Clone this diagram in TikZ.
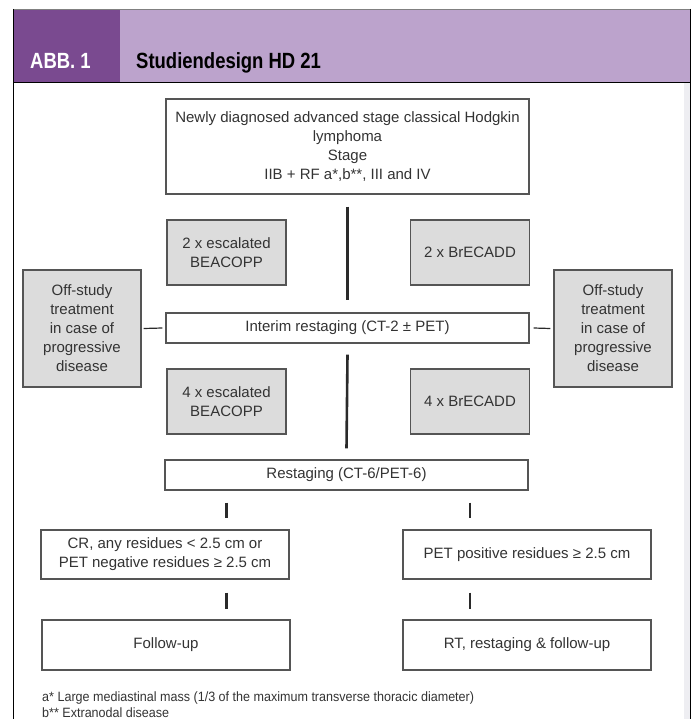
\documentclass[tikz,border=0pt]{standalone}
\usepackage{fontspec}
\setmainfont{Liberation Sans}
\usepackage{graphicx}
\definecolor{hdark}{HTML}{7A4A90}
\definecolor{hlight}{HTML}{BCA3CC}
\definecolor{boxline}{HTML}{555555}
\definecolor{boxfill}{HTML}{DCDCDC}
\definecolor{txt}{HTML}{333333}
\definecolor{linec}{HTML}{2A2A2A}
\definecolor{stripc}{HTML}{EEEEF2}
\begin{document}
\begin{tikzpicture}[x=1pt,y=-1pt,
  box/.style={draw=boxline, line width=1.3pt, fill=white, text=txt, align=center, inner sep=0pt,
    font=\fontsize{15}{19}\selectfont},
  greybox/.style={box, fill=boxfill},
  link/.style={line width=2.6pt, draw=linec},
  sidelink/.style={line width=1.2pt, draw=linec},
  hdr/.style={anchor=base west, inner sep=0pt, font=\fontsize{22}{26}\selectfont\bfseries},
  fnote/.style={anchor=base west, inner sep=0pt, text=txt, font=\fontsize{13.5}{16}\selectfont}
]
\useasboundingbox (0,0) rectangle (692,719);
% header band
\fill[hdark] (13,9) rectangle (120,83);
\fill[hlight] (120,9) rectangle (690,83);
\draw[gray, line width=0.8pt] (13,9) -- (690,9);
\draw[black, line width=1pt] (13,83) -- (690,83);
\node[hdr, text=white] (abb) at (30,69) {\scalebox{0.84}[1]{ABB. 1}};
\node[hdr, text=black] (title) at (136,69) {\scalebox{0.84}[1]{Studiendesign HD 21}};
% frame
\fill[stripc] (684,83) rectangle (690,719);
\draw[black, line width=1pt] (13.5,9) -- (13.5,719);
\draw[black, line width=1pt] (690,9) -- (690,719);
% boxes
\node[box, minimum width=363pt, minimum height=95pt] (top) at (347.5,146.5)
  {Newly diagnosed advanced stage classical Hodgkin\\lymphoma\\Stage\\IIB + RF a*,b**, III and IV};
\node[greybox, minimum width=119pt, minimum height=65pt] (b1) at (226.5,252.5) {2 x escalated\\BEACOPP};
\node[greybox, minimum width=119pt, minimum height=65pt] (b2) at (470,252.5) {2 x BrECADD};
\node[box, minimum width=363pt, minimum height=30pt] (interim) at (347.5,328) {Interim restaging (CT-2 ± PET)};
\node[greybox, minimum width=118pt, minimum height=117pt] (offL) at (82,328.5)
  {Off-study\\treatment\\in case of\\progressive\\disease};
\node[greybox, minimum width=118pt, minimum height=117pt] (offR) at (613,328.5)
  {Off-study\\treatment\\in case of\\progressive\\disease};
\node[greybox, minimum width=119pt, minimum height=65pt] (b3) at (226.5,401.5) {4 x escalated\\BEACOPP};
\node[greybox, minimum width=119pt, minimum height=65pt] (b4) at (470,401.5) {4 x BrECADD};
\node[box, minimum width=363pt, minimum height=30pt] (restage) at (346.5,475) {Restaging (CT-6/PET-6)};
\node[box, minimum width=248pt, minimum height=49pt] (cr) at (165,554.5)
  {CR, any residues < 2.5 cm or\\PET negative residues ≥ 2.5 cm};
\node[box, minimum width=248pt, minimum height=49pt] (pet) at (527,554.5) {PET positive residues ≥ 2.5 cm};
\node[box, minimum width=248pt, minimum height=50pt] (fu) at (166,645) {Follow-up};
\node[box, minimum width=248pt, minimum height=50pt] (rt) at (527,645) {RT, restaging \& follow-up};
% connectors (canvas y points up, so downward shifts are negative)
\draw[link] ([yshift=-12pt]top.south) -- ([yshift=12pt]interim.north);
\draw[link] ([yshift=-11pt]interim.south) -- ([yshift=11pt]restage.north);
\draw[sidelink] ([xshift=2pt]offL.east) -- ([xshift=-3pt]interim.west);
\draw[sidelink] ([xshift=4pt]interim.east) -- ([xshift=-3pt]offR.west);
\draw[link] ([yshift=-12pt]restage.south -| b1) -- ([yshift=11pt]cr.north -| b1);
\draw[link] ([yshift=-12pt]restage.south -| b2) -- ([yshift=11pt]pet.north -| b2);
\draw[link] ([yshift=-13pt]cr.south -| b1) -- ([yshift=10pt]fu.north -| b1);
\draw[link] ([yshift=-13pt]pet.south -| b2) -- ([yshift=10pt]rt.north -| b2);
% footnotes
\node[fnote] (fn1) at (42,701)
  {\scalebox{0.93}[1]{a* Large mediastinal mass (1/3 of the maximum transverse thoracic diameter)}};
\node[fnote] (fn2) at (42,717)
  {\scalebox{0.93}[1]{b** Extranodal disease}};
\end{tikzpicture}
\end{document}
